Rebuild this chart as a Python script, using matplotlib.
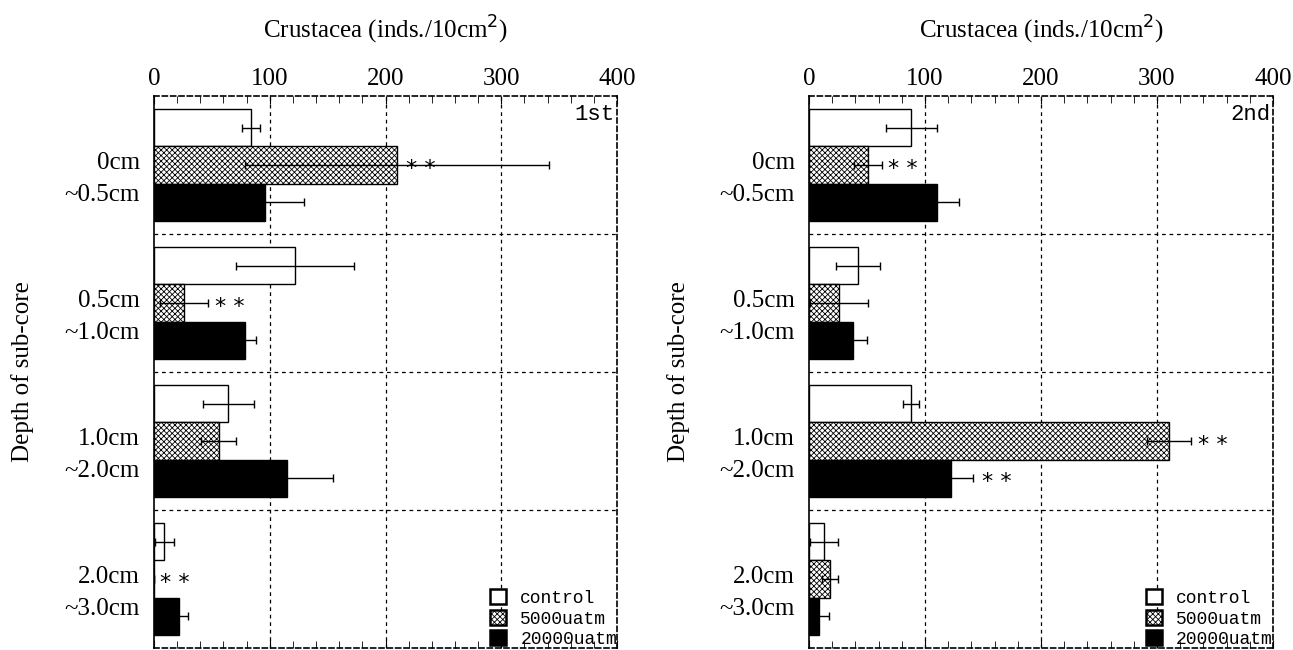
import matplotlib
matplotlib.use("Agg")
import matplotlib.pyplot as plt
import matplotlib.transforms as mtransforms
from matplotlib.patches import Patch
import numpy as np

plt.rcParams['hatch.linewidth'] = 0.6

depths = ["0cm\n~0.5cm", "0.5cm\n~1.0cm", "1.0cm\n~2.0cm", "2.0cm\n~3.0cm"]
series = ["control", "5000uatm", "20000uatm"]
panels = ["1st", "2nd"]

# mean values per depth, one list per treatment
first_control = [84, 122, 64, 9]
first_5000 = [210, 26, 56, 0]
first_20000 = [96, 79, 115, 22]
first_control_err = [8, 51, 22, 8]
first_5000_err = [131, 21, 15, 0]
first_20000_err = [34, 9, 40, 7]

second_control = [88, 42, 88, 13]
second_5000 = [51, 26, 310, 18]
second_20000 = [110, 38, 122, 9]
second_control_err = [22, 19, 7, 12]
second_5000_err = [12, 25, 19, 7]
second_20000_err = [19, 12, 19, 8]

# significance marks: (depth index, series index, x where text starts)
first_stars = [(0, 1, 218), (1, 1, 53), (3, 1, 5)]
second_stars = [(0, 1, 68), (2, 1, 335), (2, 2, 149)]

values = [[first_control, first_5000, first_20000],
          [second_control, second_5000, second_20000]]
errors = [[first_control_err, first_5000_err, first_20000_err],
          [second_control_err, second_5000_err, second_20000_err]]
stars = [first_stars, second_stars]

faces = ["white", "white", "black"]
hatches = [None, "xxxxxx", None]

serif = "Liberation Serif"
mono = "Liberation Mono"

fig = plt.figure(figsize=(12.93, 6.5), dpi=100)
rects = [[0.1191, 0.0031, 0.3581, 0.8492], [0.6257, 0.0031, 0.3588, 0.8492]]
ylabel_x = [-0.26, -0.256]

h = 0.27
y = np.arange(len(depths))

for p in range(2):
    ax = fig.add_axes(rects[p])
    for j in range(3):
        pos = y + (j - 1) * h
        ax.barh(pos, values[p][j], height=h, color=faces[j], edgecolor="black",
                hatch=hatches[j], linewidth=1, zorder=2)
        ax.errorbar(values[p][j], pos, xerr=errors[p][j], fmt="none",
                    ecolor="black", elinewidth=1, capsize=3, capthick=1, zorder=3)
    for (g, s, xs) in stars[p]:
        ax.text(xs, g + (s - 1) * h + 0.03, "* *", fontsize=16, family="DejaVu Sans",
                ha="left", va="center", zorder=4)

    ax.set_xlim(0, 400)
    ax.set_ylim(3.5, -0.5)
    ax.set_xticks([0, 100, 200, 300, 400])
    ax.set_xticks(np.arange(0, 401, 20), minor=True)
    ax.xaxis.tick_top()
    ax.tick_params(axis="x", which="both", direction="in", top=True, bottom=True,
                   labeltop=True, labelbottom=False, labelsize=18, pad=4)
    ax.tick_params(axis="x", which="major", length=6)
    ax.tick_params(axis="x", which="minor", length=5)
    for lab in ax.get_xticklabels():
        lab.set_family(serif)

    # depth labels sit a little below the group centre
    ax.set_yticks([])
    trans = mtransforms.blended_transform_factory(ax.transAxes, ax.transData)
    for g, name in zip(y, depths):
        ax.text(-0.03, g + 0.1, name, transform=trans, family=serif, fontsize=18,
                ha="right", va="center", multialignment="right", linespacing=1.6)
    bounds = []
    for g in y:
        bounds += [g - 1.5 * h, g - 0.5 * h, g + 0.5 * h, g + 1.5 * h]
    ax.set_yticks(bounds, minor=True)
    ax.tick_params(axis="y", which="minor", direction="in", length=4)

    for xv in [100, 200, 300]:
        ax.axvline(xv, color="black", linestyle=(0, (3, 3)), linewidth=0.9, zorder=1)
    for yb in [0.5, 1.5, 2.5]:
        ax.axhline(yb, color="black", linestyle=(0, (3, 3)), linewidth=0.9, zorder=1)

    for side in ["top", "right", "bottom"]:
        ax.spines[side].set_linestyle((0, (3, 2)))
        ax.spines[side].set_linewidth(1.2)
    ax.spines["left"].set_linewidth(1.2)

    ax.set_xlabel("Crustacea (inds./10cm$^2$)", family=serif, fontsize=18, labelpad=22)
    ax.xaxis.set_label_position("top")
    ax.set_ylabel("Depth of sub-core", family=serif, fontsize=18)
    ax.yaxis.set_label_coords(ylabel_x[p], 0.5)

    ax.text(0.995, 0.985, panels[p], transform=ax.transAxes, ha="right", va="top",
            family=mono, fontsize=16)

    handles = [Patch(facecolor=faces[j], edgecolor="black", hatch=hatches[j],
                     linewidth=1.8) for j in range(3)]
    ax.legend(handles, series, loc="lower right", frameon=False,
              prop={"family": mono, "size": 13}, handlelength=0.9, handleheight=0.9,
              handletextpad=0.8, labelspacing=0.15, borderaxespad=0.0,
              borderpad=0.0)

fig.savefig("out.png", dpi=100)
